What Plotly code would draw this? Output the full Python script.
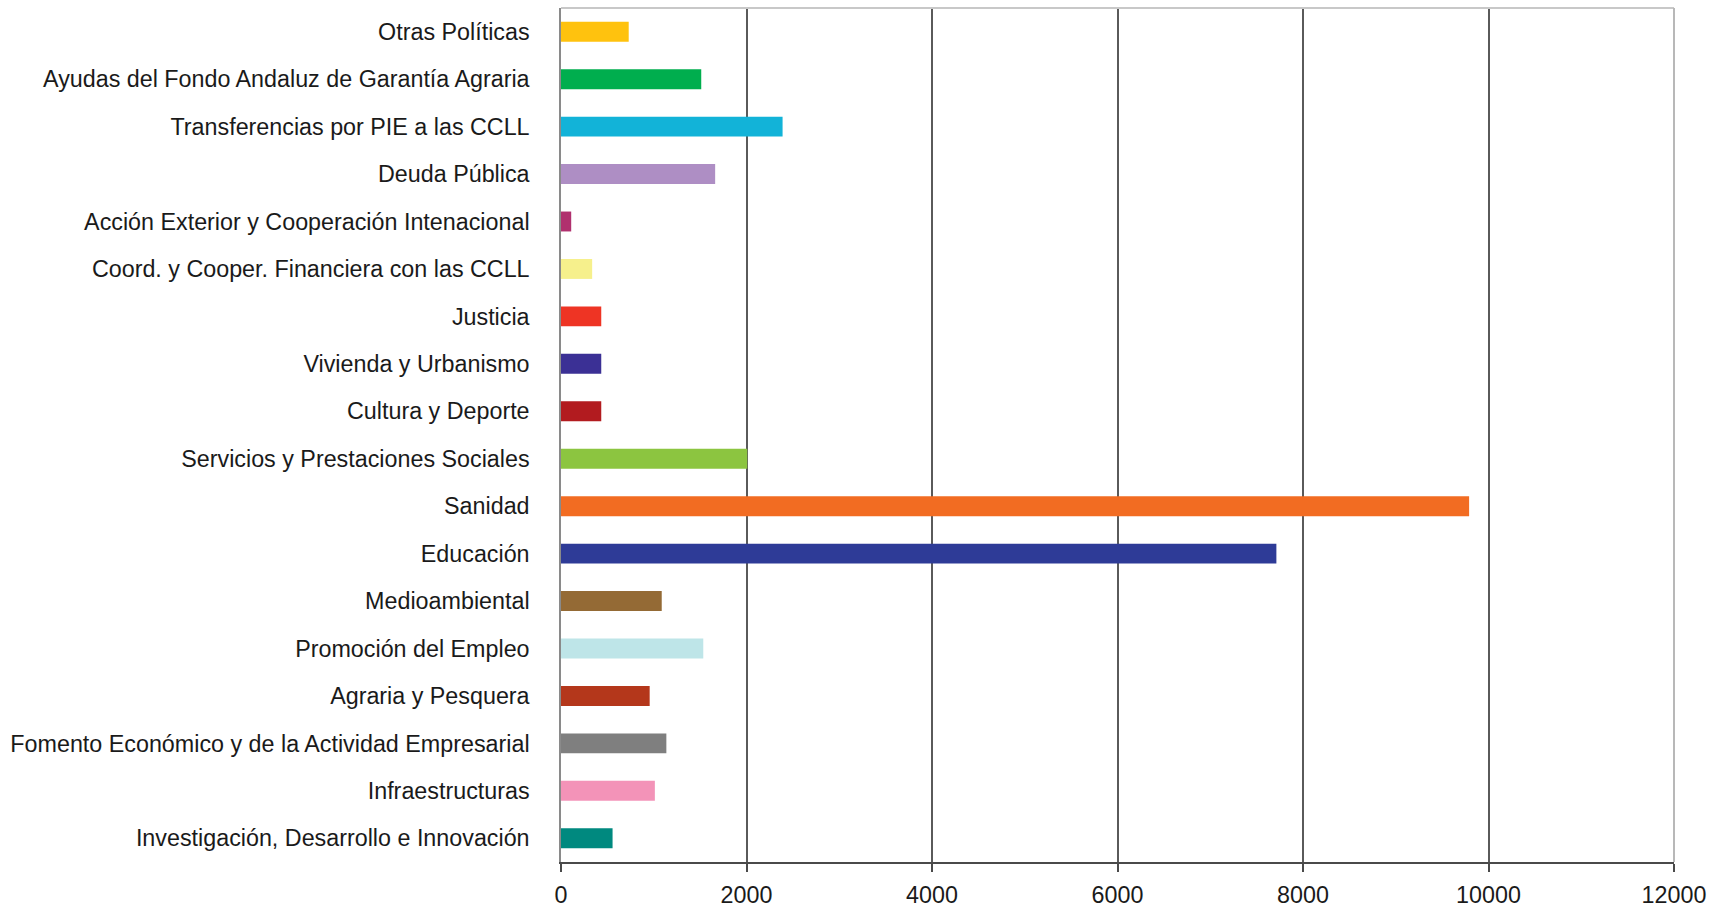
import plotly.graph_objects as go

categories = [
    "Otras Políticas",
    "Ayudas del Fondo Andaluz de Garantía Agraria",
    "Transferencias por PIE a las CCLL",
    "Deuda Pública",
    "Acción Exterior y Cooperación Intenacional",
    "Coord. y Cooper. Financiera con las CCLL",
    "Justicia",
    "Vivienda y Urbanismo",
    "Cultura y Deporte",
    "Servicios y Prestaciones Sociales",
    "Sanidad",
    "Educación",
    "Medioambiental",
    "Promoción del Empleo",
    "Agraria y Pesquera",
    "Fomento Económico y de la Actividad Empresarial",
    "Infraestructuras",
    "Investigación, Desarrollo e Innovación",
]
values = [730, 1512, 2389, 1662, 110, 336, 434, 434, 434, 2008, 9791, 7713,
          1086, 1534, 956, 1136, 1012, 556]
colors = ["#FFC20E", "#00AE4E", "#12B3D8", "#AE8EC4", "#B0306E", "#F6F08C",
          "#EE3424", "#3B3095", "#B21B1F", "#8CC540", "#F26C22", "#2E3B97",
          "#946A35", "#BEE5E8", "#B4371B", "#7F7F7F", "#F393B8", "#00897F"]
x_ticks = [0, 2000, 4000, 6000, 8000, 10000, 12000]

fig = go.Figure(go.Bar(
    x=values, y=categories, orientation="h",
    marker=dict(color=colors, line=dict(width=0)),
))

fig.update_layout(
    width=1718, height=907,
    margin=dict(l=561, r=44, t=8, b=45, autoexpand=False),
    paper_bgcolor="white", plot_bgcolor="white",
    font=dict(family="Liberation Sans, Arial, sans-serif", size=23.3, color="#1a1a1a"),
    bargap=0.58,
    showlegend=False,
    shapes=[
        dict(type="line", xref="paper", yref="paper", x0=0, x1=1, y0=1, y1=1,
             line=dict(color="#c8c8c8", width=2)),
        dict(type="line", xref="paper", yref="paper", x0=1, x1=1, y0=0, y1=1,
             line=dict(color="#b8b8b8", width=2)),
    ],
)
fig.update_xaxes(
    range=[0, 12000], tickvals=x_ticks, ticktext=[str(v) for v in x_ticks],
    showgrid=True, gridcolor="#5a5a5a", gridwidth=1.5,
    showline=True, linecolor="#4a4a4a", linewidth=2,
    ticks="outside", ticklen=8, tickcolor="#4a4a4a", tickwidth=1.5,
    zeroline=False, ticklabelstandoff=3, automargin=False,
)
fig.update_yaxes(
    autorange="reversed", type="category",
    showgrid=False, showline=True, linecolor="#8a8a8a", linewidth=1.5,
    ticks="", ticklabelstandoff=25, automargin=False,
)

fig.write_html("out.html")
